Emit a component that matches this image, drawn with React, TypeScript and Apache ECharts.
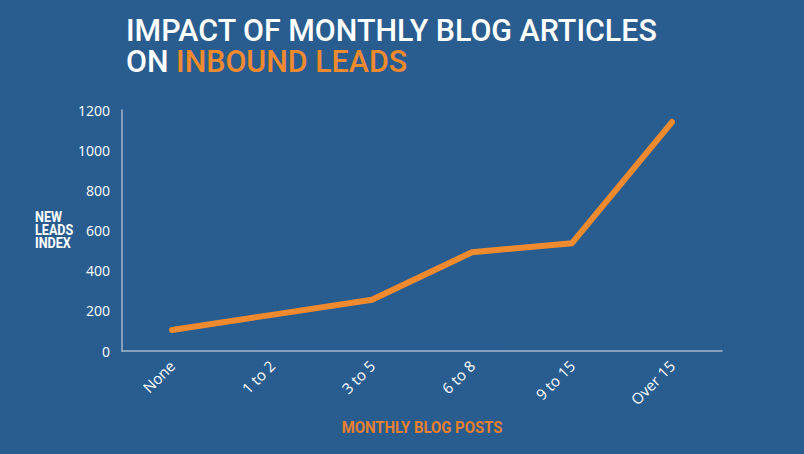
import React, { useEffect, useRef } from "react";
import * as echarts from "echarts";

const categories = ["None", "1 to 2", "3 to 5", "6 to 8", "9 to 15", "Over 15"];
const leadsIndex = [105, 180, 255, 492, 537, 1140];
const yTicks = { min: 0, max: 1200, interval: 200 };

const BG = "#2a5d8f";
const ORANGE = "#f08a2f";
const TITLE_FONT = "Roboto";

export default function App() {
  const ref = useRef<HTMLDivElement>(null);
  useEffect(() => {
    if (!ref.current) return;
    const chart = echarts.init(ref.current, undefined, { renderer: "svg" });
    chart.setOption({
      animation: false,
      backgroundColor: BG,
      grid: { left: 122, right: 82, top: 110, bottom: 103 },
      xAxis: {
        type: "category",
        data: categories,
        boundaryGap: true,
        axisLine: { show: true, lineStyle: { color: "#a3b6ca", width: 1.5 } },
        axisTick: { show: false },
        axisLabel: {
          color: "#ffffff",
          rotate: 45,
          margin: 12,
          fontSize: 15,
          fontFamily: "Open Sans",
        },
      },
      yAxis: {
        type: "value",
        min: yTicks.min,
        max: yTicks.max,
        interval: yTicks.interval,
        axisLine: { show: true, lineStyle: { color: "#a3b6ca", width: 1.5 } },
        axisTick: { show: false },
        splitLine: { show: false },
        axisLabel: {
          color: "#ffffff",
          margin: 12,
          fontSize: 14,
          fontWeight: 500,
          fontFamily: "Open Sans",
          formatter: (v: number) => String(v),
        },
      },
      series: [
        {
          type: "line",
          data: leadsIndex,
          showSymbol: false,
          symbol: "none",
          lineStyle: { color: ORANGE, width: 6, cap: "round", join: "round" },
        },
      ],
      graphic: [
        {
          type: "group",
          x: 126,
          y: 14,
          scaleX: 0.95,
          children: [
            {
              type: "text",
              x: 0,
              y: 0,
              style: {
                text: "IMPACT OF MONTHLY BLOG ARTICLES",
                fill: "#ffffff",
                fontSize: 32,
                fontWeight: 500,
                fontFamily: TITLE_FONT,
                verticalAlign: "top",
              },
            },
            {
              type: "text",
              x: 0,
              y: 31,
              style: {
                text: "{w|ON }{o|INBOUND LEADS}",
                verticalAlign: "top",
                rich: {
                  w: { fill: "#ffffff", fontSize: 32, fontWeight: 500, fontFamily: TITLE_FONT },
                  o: { fill: ORANGE, fontSize: 32, fontWeight: 500, fontFamily: TITLE_FONT },
                },
              },
            },
          ],
        },
        {
          type: "group",
          x: 35,
          y: 211,
          scaleX: 0.9,
          children: [
            {
              type: "text",
              x: 0,
              y: 0,
              style: {
                text: "NEW\nLEADS\nINDEX",
                fill: "#ffffff",
                fontSize: 14,
                lineHeight: 13,
                fontWeight: "bold",
                fontFamily: "Roboto",
                verticalAlign: "top",
              },
            },
          ],
        },
        {
          type: "group",
          x: 422,
          y: 428,
          scaleX: 0.93,
          children: [
            {
              type: "text",
              x: 0,
              y: 0,
              style: {
                text: "MONTHLY BLOG POSTS",
                fill: "#e8802e",
                fontSize: 16,
                fontWeight: "bold",
                fontFamily: "Roboto",
                align: "center",
                verticalAlign: "middle",
              },
            },
          ],
        },
      ],
    });
    return () => chart.dispose();
  }, []);
  return <div ref={ref} style={{ width: 804, height: 454, position: "fixed", left: 0, top: 0 }} />;
}
